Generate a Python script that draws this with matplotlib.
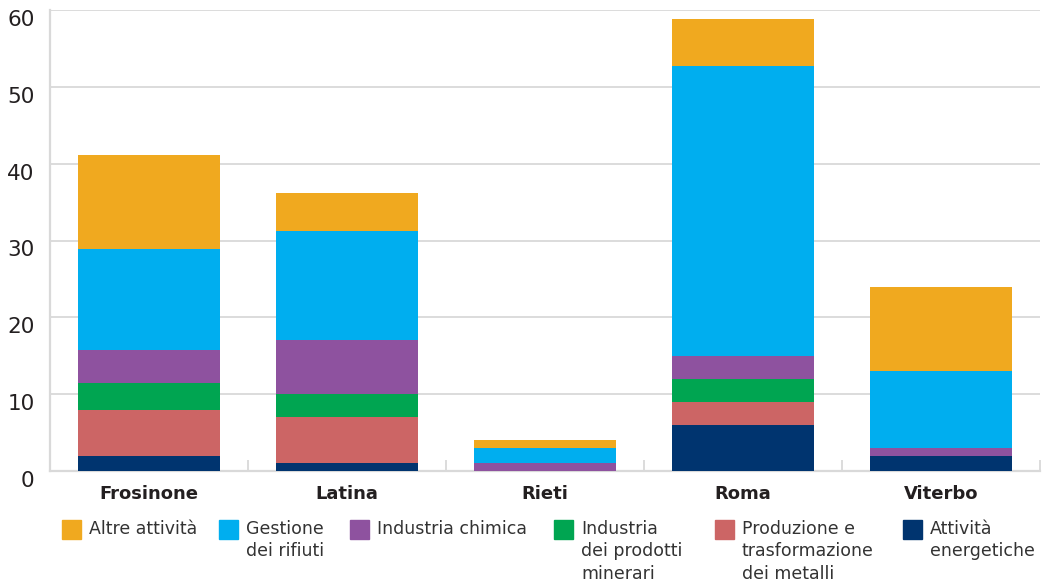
import matplotlib.pyplot as plt
from matplotlib.patches import Rectangle
import numpy as np

provinces = ["Frosinone", "Latina", "Rieti", "Roma", "Viterbo"]

# stacked bottom to top
energetiche = [2, 1, 0, 6, 2]
metalli = [6, 6, 0, 3, 0]
minerari = [3.4, 3, 0, 3, 0]
chimica = [4.4, 7, 1, 3, 1]
rifiuti = [13.1, 14.2, 2, 37.7, 10]
altre = [12.2, 5, 1, 6.1, 11]

series = [
    ("Attività\nenergetiche", energetiche, "#00346F"),
    ("Produzione e\ntrasformazione\ndei metalli", metalli, "#CC6565"),
    ("Industria\ndei prodotti\nminerari", minerari, "#00A551"),
    ("Industria chimica", chimica, "#8E529F"),
    ("Gestione\ndei rifiuti", rifiuti, "#00AEEF"),
    ("Altre attività", altre, "#F0A91F"),
]

plt.rcParams["font.family"] = ["DejaVu Sans"]

fig = plt.figure(figsize=(10.42, 5.88), dpi=100)
ax = fig.add_axes([50 / 1042, 1 - 471 / 588, 990 / 1042, 461 / 588])

x = np.arange(len(provinces))
bottom = np.zeros(len(provinces))
for label, vals, color in series:
    ax.bar(x, vals, width=0.72, bottom=bottom, color=color, zorder=3)
    bottom += np.array(vals)

ax.set_xlim(-0.5, len(provinces) - 0.5)
ax.set_ylim(0, 60)
ax.set_yticks(range(0, 61, 10))
ax.grid(axis="y", color="#D9D9D9", linewidth=1.3, zorder=0)

for side in ["top", "right"]:
    ax.spines[side].set_visible(False)
for side in ["left", "bottom"]:
    ax.spines[side].set_color("#D9D9D9")
    ax.spines[side].set_linewidth(1.6)

ax.set_xticks(x)
ax.set_xticklabels(provinces, fontsize=13, fontweight="bold", color="#231F20")
ax.set_xticks(np.arange(0.5, len(provinces), 1), minor=True)
ax.tick_params(axis="x", which="major", length=0, pad=10)
ax.tick_params(axis="x", which="minor", direction="in", length=8, color="#D9D9D9", width=1.3)
ax.tick_params(axis="y", length=0, pad=11, labelsize=15.5, labelcolor="#231F20")
plt.setp(ax.get_yticklabels(), va="top")

# legend drawn by hand in figure pixels
legend_order = [5, 4, 3, 2, 1, 0]
box_x = [62, 219, 350, 554, 715, 903]
for pos, idx in zip(box_x, legend_order):
    label, _, color = series[idx]
    fig.patches.append(Rectangle((pos / 1042, 1 - 539 / 588), 19 / 1042, 19 / 588,
                                 transform=fig.transFigure, color=color))
    fig.text((pos + 27) / 1042, 1 - 520 / 588, label, fontsize=12.5, color="#333333",
             va="top", ha="left", linespacing=1.32)

fig.savefig("out.png", dpi=100)
